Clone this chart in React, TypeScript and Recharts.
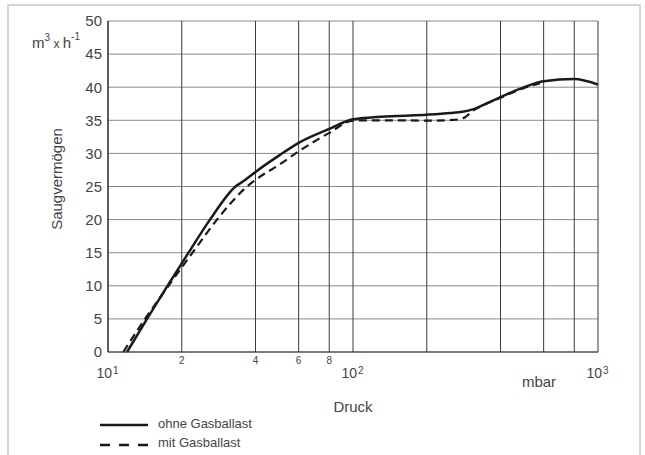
import React from 'react';
import { LineChart, Line, XAxis, YAxis, CartesianGrid, Customized } from 'recharts';

// Druck (mbar) / Saugvermögen (m3/h) – ohne Gasballast
const pressureOhne = [11.96, 14.43, 17.49, 21.31, 26.08, 33.15, 36, 40, 50, 60, 80, 100, 121, 150, 200, 250, 280, 308, 346, 400, 503, 600, 800, 1000];
const saugOhne = [0, 5, 10, 15, 20, 25, 25.9, 27.2, 29.7, 31.6, 33.7, 35.15, 35.45, 35.65, 35.85, 36.1, 36.3, 36.65, 37.45, 38.5, 40.05, 40.9, 41.25, 40.4];

// mit Gasballast
const pressureMit = [11.55, 14.16, 17.66, 22.13, 27.86, 32.07, 36.93, 40, 50, 60, 80, 100, 121, 150, 200, 256, 281, 310, 350, 400, 500, 580];
const saugMit = [0, 5, 10, 15, 20, 22.7, 25, 26.0, 28.3, 30.3, 33.1, 34.95, 35.0, 35.0, 34.95, 35.05, 35.3, 36.5, 37.5, 38.4, 39.9, 40.6];

const xTicks = [10, 20, 40, 60, 80, 100, 200, 400, 600, 800, 1000];
const yTicks = [0, 5, 10, 15, 20, 25, 30, 35, 40, 45, 50];
const minorLabels: Record<number, string> = { 20: '2', 40: '4', 60: '6', 80: '8' };
const decadeLabels: Record<number, string> = { 10: '1', 100: '2', 1000: '3' };

const seriesNames = ['ohne Gasballast', 'mit Gasballast'];

const ohneData = pressureOhne.map((p, i) => ({ p, v: saugOhne[i] }));
const mitData = pressureMit.map((p, i) => ({ p, v: saugMit[i] }));

const FONT = '"Liberation Sans", Arial, Helvetica, sans-serif';
const TEXT = '#444';
const INK = '#1a1a1a';

function XTick(props: any) {
  const { x, y, payload } = props;
  const v = payload.value;
  if (minorLabels[v]) {
    return (
      <text x={x} y={y + 12} textAnchor="middle" fontSize={10} fill={TEXT} fontFamily={FONT}>
        {minorLabels[v]}
      </text>
    );
  }
  if (decadeLabels[v]) {
    return (
      <g fontFamily={FONT} fill={TEXT}>
        <text x={x + 4} y={y + 26} textAnchor="end" fontSize={14}>10</text>
        <text x={x + 5} y={y + 21.5} textAnchor="start" fontSize={10}>{decadeLabels[v]}</text>
      </g>
    );
  }
  return <g />;
}

function Annotations() {
  return (
    <g fontFamily={FONT}>
      <rect x={8} y={5} width={632} height={480} fill="none" stroke="#c8c8c8" strokeWidth={1.5} />
      <text x={32} y={48} fontSize={15} fill={TEXT}>
        m<tspan fontSize={10} dy={-7}>3</tspan>
        <tspan fontSize={12} dy={7}> x </tspan>
        <tspan fontSize={15}>h</tspan>
        <tspan fontSize={10} dy={-8}>-1</tspan>
      </text>
      <text transform="translate(61.5,179) rotate(-90)" textAnchor="middle" fontSize={15} fill={TEXT}>
        Saugvermögen
      </text>
      <text x={353} y={411.5} textAnchor="middle" fontSize={15} fill={TEXT}>Druck</text>
      <text x={539} y={386.5} textAnchor="middle" fontSize={15} fill={TEXT}>mbar</text>
      <line x1={100} x2={148} y1={425} y2={425} stroke={INK} strokeWidth={2.3} />
      <text x={158} y={428} fontSize={13} fill={TEXT}>{seriesNames[0]}</text>
      <line x1={100} x2={148} y1={445} y2={445} stroke={INK} strokeWidth={2.3} strokeDasharray="10 9" />
      <text x={158} y={446.5} fontSize={13} fill={TEXT}>{seriesNames[1]}</text>
    </g>
  );
}

export default function App() {
  return (
    <div style={{ position: 'absolute', left: 0, top: 0, width: 645, height: 455, background: '#fff' }}>
      <LineChart width={645} height={455} margin={{ top: 21, right: 47, bottom: 43, left: 8 }}>
        <Customized component={Annotations} />
        <CartesianGrid vertical={false} stroke="#8a8a8a" strokeWidth={1} />
        <CartesianGrid horizontal={false} stroke="#3a3a3a" strokeWidth={1} />
        <XAxis
          dataKey="p"
          type="number"
          scale="log"
          domain={[10, 1000]}
          allowDataOverflow
          ticks={xTicks}
          interval={0}
          tick={<XTick />}
          tickLine={false}
          tickSize={0}
          tickMargin={0}
          axisLine={{ stroke: '#333', strokeWidth: 1.2 }}
          height={60}
        />
        <YAxis
          type="number"
          domain={[0, 50]}
          ticks={yTicks}
          interval={0}
          tickLine={false}
          tickSize={6}
          tickMargin={0}
          axisLine={{ stroke: '#333', strokeWidth: 1.2 }}
          tick={{ fontSize: 15, fill: TEXT, fontFamily: FONT }}
          width={100}
        />
        <Line
          data={ohneData}
          dataKey="v"
          name={seriesNames[0]}
          type="monotone"
          stroke={INK}
          strokeWidth={2.5}
          dot={false}
          activeDot={false}
          isAnimationActive={false}
        />
        <Line
          data={mitData}
          dataKey="v"
          name={seriesNames[1]}
          type="monotone"
          stroke={INK}
          strokeWidth={2.2}
          strokeDasharray="8 5"
          dot={false}
          activeDot={false}
          isAnimationActive={false}
        />
      </LineChart>
    </div>
  );
}
